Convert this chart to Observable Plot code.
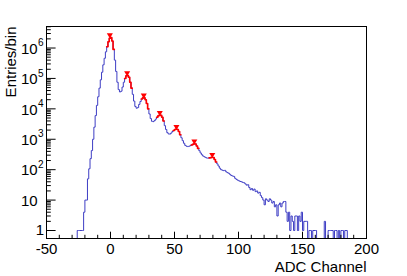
<!DOCTYPE html>
<html><head><meta charset="utf-8">
<script src="https://cdn.jsdelivr.net/npm/d3@7"></script>
<script src="https://cdn.jsdelivr.net/npm/@observablehq/plot@0.6"></script>
<style>
html,body{margin:0;padding:0;background:#fff;}
#chart svg{display:block;}
</style></head><body><div id="chart"></div>
<script>
// Histogram: bins of width 1 ADC channel, first bin edge at -50
const binLow = -50;
const binWidth = 1;
const counts = [
  // -50 .. -27
  0,0,0,0,0,0,0,0,0,0,0,0,0,0,0,0,0,0,0,0,0,0,0,0,
  // -26 .. -14
  1,1,1,1,1,4,10,10,50,107,230,425,1000,
  // -13 .. -1
  2500,6000,13000,25000,48000,90000,160000,280000,460000,750000,1100000,1600000,2100000,
  // 0 .. 9
  2200000,1700000,900000,400000,170000,75000,43000,36000,38000,52000,
  // 10 .. 19
  75000,100000,122000,125000,110000,75000,48000,30000,18000,12000,
  // 20 .. 29
  10500,11000,14000,17500,21000,23000,23000,20000,15000,10000,
  // 30 .. 39
  6800,4800,3900,3800,4100,4600,5300,5900,6200,6100,
  // 40 .. 49
  5300,4000,2800,2100,1650,1500,1480,1600,1800,1950,
  // 50 .. 59
  2100,2150,2100,1800,1400,1120,900,740,630,590,
  // 60 .. 69
  575,590,615,650,680,710,700,600,500,420,
  // 70 .. 79
  355,310,280,265,250,240,240,245,250,257,
  // 80 .. 89
  250,215,178,155,132,112,100,96,93,95,
  // 90 .. 99
  85,80,76,70,64,62,60,52,48,45,
  // 100 .. 109
  43,41,40,38,37,34,31,32,26,22,
  // 110 .. 119
  24,21,23,19,20,17,18,14,12,10,
  // 120 .. 129
  7,11,10,9,11,10,8,9,6,7,
  // 130 .. 139
  3,7,8,6,8,9,9,4,2,4,
  // 140 .. 149
  1,3,2,1,3,3,1,3,2,4,
  // 150 .. 159
  1,2,2,2,0,1,1,0,1,1,
  // 160 .. 169
  1,0,0,0,0,0,0,2,0,0,
  // 170 .. 179
  1,1,1,1,0,1,1,0,1,0,
  // 180 .. 189
  1,1,0,1,1,0,0,0,0,0,
  // 190 .. 199
  0,0,0,0,0,0,0,0,0,0
];

// Peaks found (red markers)
const peakX = [-0.5, 13, 26, 38.5, 51.5, 65.5, 79.5];
const peakY = [2200000, 125000, 23000, 6200, 2150, 710, 257];

// Axis ticks and labels
const xMajorTicks = [-50, 0, 50, 100, 150, 200];
const xTickLabels = ["-50", "0", "50", "100", "150", "200"];
const xMinorTicks = [-40,-30,-20,-10,10,20,30,40,60,70,80,90,110,120,130,140,160,170,180,190];
const yMajorTicks = [1, 10, 100, 1000, 10000, 100000, 1000000];
const yTickBase = ["1", "10", "10", "10", "10", "10", "10"];
const yTickExp = ["", "", "2", "3", "4", "5", "6"];
const xTitle = "ADC Channel";
const yTitle = "Entries/bin";

const yMin = 0.546, yMax = 5.1e6;

// build step-line points from bins
const edges = counts.map((c, i) => binLow + i * binWidth);
const hist = counts.map((c, i) => ({x: edges[i], y: c}));
hist.push({x: binLow + counts.length * binWidth, y: counts[counts.length - 1]});

// red overlay near each peak
const red = [];
peakX.forEach((p, k) => {
  const s = Math.floor(p) - 2, e = Math.floor(p) + 4;
  for (let b = s; b <= e; b++) {
    const idx = Math.min(b, e - 1) - binLow;
    red.push({x: b, y: counts[idx], k});
  }
});
const peaks = peakX.map((x, i) => ({x, y: peakY[i]}));

const yMinor = [];
for (let k = 0; k <= 6; k++) for (let m = 2; m <= 9; m++) { const v = m * Math.pow(10, k); if (v < yMax) yMinor.push(v); }

const triDown = {
  draw(ctx, size) {
    const h = Math.sqrt(size) * 0.95;
    ctx.moveTo(-h * 0.6, -h * 0.45);
    ctx.lineTo(h * 0.6, -h * 0.45);
    ctx.lineTo(0, h * 0.55);
    ctx.closePath();
  }
};

const clampY = d => Math.max(d.y, yMin);
const font = "Liberation Sans, Arial, Helvetica, sans-serif";

const chart = Plot.plot({
  width: 407,
  height: 276,
  marginLeft: 46,
  marginRight: 41,
  marginTop: 26,
  marginBottom: 38,
  style: {fontFamily: font, background: "#fff", color: "#000"},
  x: {domain: [-50, 200]},
  y: {type: "log", domain: [yMin, yMax]},
  marks: [
    Plot.line(hist, {x: "x", y: clampY, curve: "step-after", stroke: "#3d3dc4", strokeWidth: 1}),
    Plot.line(red, {x: "x", y: clampY, z: "k", curve: "step-after", stroke: "#ff0000", strokeWidth: 1.6}),
    Plot.dot(peaks, {x: "x", y: "y", symbol: triDown, r: 3, fill: "#ff0000", stroke: "none", dy: -2}),
    Plot.frame({stroke: "#000", strokeWidth: 1}),
    Plot.axisX(xMajorTicks, {anchor: "bottom", tickSize: -6.3, tickFormat: () => "", label: null}),
    Plot.axisX(xMinorTicks, {anchor: "bottom", tickSize: -3.2, tickFormat: () => "", label: null}),
    Plot.axisY(yMajorTicks, {anchor: "left", tickSize: -9.6, tickFormat: () => "", label: null}),
    Plot.axisY(yMinor, {anchor: "left", tickSize: -4.8, tickFormat: () => "", label: null}),
    Plot.text(xMajorTicks, {x: d => d, text: (d, i) => xTickLabels[i], frameAnchor: "bottom", lineAnchor: "top", dy: 4.5, fontSize: 15, fill: "#000"}),
    Plot.text(yMajorTicks.slice(0, 1), {y: d => d, text: (d, i) => yTickBase[i], frameAnchor: "left", textAnchor: "end", dx: -2.5, fontSize: 15, fill: "#000"}),
    Plot.text(yMajorTicks.slice(1), {y: d => d, text: (d, i) => yTickBase[i + 1], frameAnchor: "left", textAnchor: "start", dx: -25.5, dy: 1, fontSize: 15, fill: "#000"}),
    Plot.text(yMajorTicks.slice(2), {y: d => d, text: (d, i) => yTickExp[i + 2], frameAnchor: "left", textAnchor: "start", dx: -8.5, dy: -5, fontSize: 10, fill: "#000"}),
    Plot.text([xTitle], {text: d => d, frameAnchor: "bottom-right", textAnchor: "end", lineAnchor: "bottom", dy: 33.5, fontSize: 15, fill: "#000"}),
    Plot.text([yTitle], {text: d => d, frameAnchor: "top-left", textAnchor: "end", lineAnchor: "bottom", rotate: -90, dx: -31, dy: 0, fontSize: 15, fill: "#000"})
  ]
});
document.getElementById("chart").appendChild(chart);
</script></body></html>
